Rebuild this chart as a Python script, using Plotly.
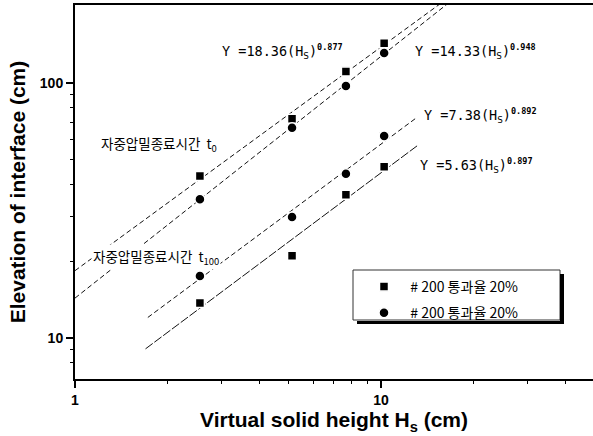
import plotly.graph_objects as go

# ---- data ----
hs = [2.56, 5.12, 7.68, 10.24]
t0_square = [43.2, 72.3, 111.0, 143.0]
t0_circle = [35.0, 66.7, 97.3, 131.0]
t100_circle = [17.5, 29.8, 44.0, 62.0]
t100_square = [13.7, 21.0, 36.4, 46.9]

fit_coef = [18.36, 14.33, 7.38, 5.63]
fit_exp = [0.877, 0.948, 0.892, 0.897]
fit_xmin = [1.0, 1.0, 1.73, 1.70]
fit_xmax = [16.5, 17.0, 13.1, 13.2]
fit_labels = ["Y =18.36(H<sub>S</sub>)", "Y =14.33(H<sub>S</sub>)",
              "Y =7.38(H<sub>S</sub>)", "Y =5.63(H<sub>S</sub>)"]
legend_name = "\u00a0\u00a0# 200 통과율 20%"
label_t0 = "자중압밀종료시간  t<sub>0</sub>"
label_t100 = "자중압밀종료시간  t<sub>100</sub>"

x_major = [1, 10]
x_minor = [2, 3, 4, 5, 6, 7, 8, 9, 20, 30, 40]
y_major = [10, 100]
y_minor = [8, 9, 20, 30, 40, 50, 60, 70, 80, 90]

# ---- layout geometry (pixels) ----
W, H = 593, 436
L, R, T, B = 75, 0, 5, 57
PW, PH = W - L - R, H - T - B
XR = [0, PW / 306.0]
YR = [0.839, 0.839 + PH / 255.0]


def px(x):
    return (x - L) / PW


def py(y):
    return (H - B - y) / PH


fig = go.Figure()

dashes = ["5px,3px", "5px,3px", "5px,3px", "9px,2px"]
for c, e, x0, x1, d in zip(fit_coef, fit_exp, fit_xmin, fit_xmax, dashes):
    xs = [x0, x1]
    ys = [c * v ** e for v in xs]
    fig.add_trace(go.Scatter(x=xs, y=ys, mode="lines", showlegend=False,
                             line=dict(color="#111", width=1, dash=d),
                             hoverinfo="skip"))

mk_sq = dict(symbol="square", size=9, color="black", line=dict(color="white", width=1.5))
mk_ci = dict(symbol="circle", size=10, color="black", line=dict(color="white", width=1.5))

fig.add_trace(go.Scatter(x=hs, y=t0_square, mode="markers", marker=mk_sq,
                         name=legend_name, legendgroup="a", showlegend=True))
fig.add_trace(go.Scatter(x=hs, y=t0_circle, mode="markers", marker=mk_ci,
                         name=legend_name, legendgroup="b", showlegend=True))
fig.add_trace(go.Scatter(x=hs, y=t100_circle, mode="markers", marker=mk_ci,
                         showlegend=False))
fig.add_trace(go.Scatter(x=hs, y=t100_square, mode="markers", marker=mk_sq,
                         showlegend=False))

# invisible trace that carries the minor-tick overlay axes
fig.add_trace(go.Scatter(x=[2], y=[20], xaxis="x2", yaxis="y2", mode="markers",
                         marker=dict(size=1, color="rgba(0,0,0,0)"),
                         showlegend=False, hoverinfo="skip"))

eq_pos = [(220, 51), (413, 51), (422, 116), (418, 165)]
annos = []
for lab, e, (ax, ay) in zip(fit_labels, fit_exp, eq_pos):
    annos.append(dict(
        text=lab + "<sup><span style='font-size:8.5px;font-weight:bold'>%.3f</span></sup>" % e,
        x=px(ax), y=py(ay), xref="paper", yref="paper",
        xanchor="left", yanchor="middle", showarrow=False,
        font=dict(family="DejaVu Sans Mono", size=13.5, color="black")))

for lab, (ax, ay) in zip([label_t0, label_t100], [(99, 144), (91, 257)]):
    annos.append(dict(
        text=lab, x=px(ax), y=py(ay), xref="paper", yref="paper",
        xanchor="left", yanchor="middle", showarrow=False, bgcolor="white",
        borderpad=1,
        font=dict(family="Noto Sans CJK KR", size=13.5, color="black")))

shapes = [
    dict(type="rect", xref="paper", yref="paper",
         x0=px(353), x1=px(560), y0=py(270), y1=py(320),
         fillcolor="white", line=dict(color="#333", width=1), layer="above"),
    # legend drop shadow (right and bottom)
    dict(type="line", xref="paper", yref="paper",
         x0=px(562), x1=px(562), y0=py(274), y1=py(324),
         line=dict(color="black", width=4), layer="above"),
    dict(type="line", xref="paper", yref="paper",
         x0=px(357), x1=px(564), y0=py(322.5), y1=py(322.5),
         line=dict(color="black", width=3), layer="above"),
]

fig.update_layout(
    width=W, height=H,
    margin=dict(l=L, r=R, t=T, b=B, pad=0),
    paper_bgcolor="white", plot_bgcolor="white",
    font=dict(family="Liberation Sans, Arial", color="black"),
    showlegend=True,
    legend=dict(x=px(364), y=py(271), xref="paper", yref="paper",
                xanchor="left", yanchor="top",
                bgcolor="rgba(0,0,0,0)", borderwidth=0,
                tracegroupgap=5,
                font=dict(family="Noto Sans CJK KR", size=14, color="black")),
    annotations=annos,
    shapes=shapes,
)

tickfont = dict(family="Liberation Sans, Arial", size=14, weight="bold")
fig.update_layout(
    xaxis=dict(
        type="log", range=XR,
        showgrid=False, zeroline=False,
        showline=True, linecolor="black", linewidth=2, mirror=True,
        ticks="outside", ticklen=7, tickwidth=1.5, tickcolor="black",
        tickvals=x_major, ticktext=[str(v) for v in x_major], tickfont=tickfont,
        title=dict(text="Virtual solid height H<sub>s</sub> (cm)", standoff=6,
                   font=dict(family="Liberation Sans, Arial", size=21, weight="bold")),
    ),
    yaxis=dict(
        type="log", range=YR,
        showgrid=False, zeroline=False,
        showline=True, linecolor="black", linewidth=2, mirror=False,
        ticks="outside", ticklen=7, tickwidth=1.5, tickcolor="black",
        tickvals=y_major, ticktext=[str(v) for v in y_major], tickfont=tickfont,
        title=dict(text="Elevation of interface (cm)", standoff=8,
                   font=dict(family="Liberation Sans, Arial", size=21, weight="bold")),
    ),
    xaxis2=dict(
        type="log", range=XR, overlaying="x", anchor="y", side="bottom",
        showgrid=False, zeroline=False, showline=False,
        ticks="outside", ticklen=4, tickwidth=1, tickcolor="black",
        tickvals=x_minor, ticktext=[""] * len(x_minor), showticklabels=False,
    ),
    yaxis2=dict(
        type="log", range=YR, overlaying="y", anchor="x", side="left",
        showgrid=False, zeroline=False, showline=False,
        ticks="outside", ticklen=4, tickwidth=1, tickcolor="black",
        tickvals=y_minor, ticktext=[""] * len(y_minor), showticklabels=False,
    ),
)

fig.write_html("out.html")
